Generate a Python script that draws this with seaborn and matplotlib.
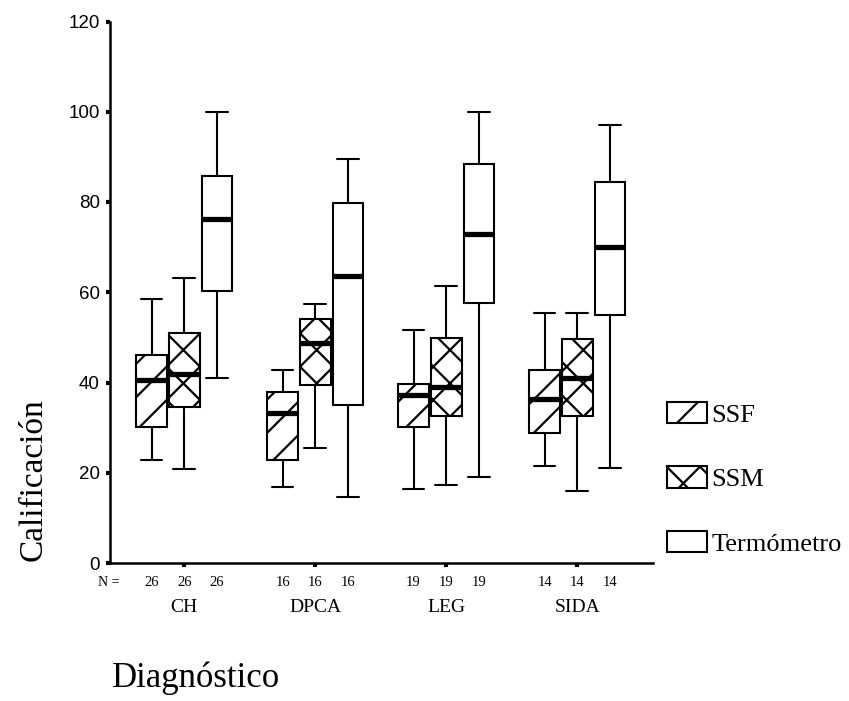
import numpy as np
import pandas as pd
import matplotlib
matplotlib.use("Agg")
import matplotlib.pyplot as plt
import seaborn as sns
from matplotlib.patches import Patch
from matplotlib.transforms import blended_transform_factory

# ---------------- data ----------------
categories = ["CH", "DPCA", "LEG", "SIDA"]
measures = ["SSF", "SSM", "Termómetro"]
n_counts = [26, 16, 19, 14]

# five-number summaries per category: [whisker low, Q1, median, Q3, whisker high]
ssf_summary = [
    [22.8, 30.2, 40.5, 46.2, 58.4],
    [16.8, 22.8, 33.3, 37.8, 42.8],
    [16.5, 30.2, 37.2, 39.6, 51.7],
    [21.5, 28.7, 36.4, 42.8, 55.4],
]
ssm_summary = [
    [20.8, 34.6, 41.8, 51.0, 63.1],
    [25.4, 39.4, 48.8, 54.1, 57.4],
    [17.3, 32.6, 39.0, 49.9, 61.4],
    [16.0, 32.6, 40.9, 49.7, 55.4],
]
termometro_summary = [
    [41.0, 60.3, 76.3, 85.7, 100.0],
    [14.7, 35.1, 63.6, 79.8, 89.5],
    [19.0, 57.6, 72.9, 88.4, 100.0],
    [21.0, 55.0, 70.0, 84.5, 97.0],
]
y_ticks = [0, 20, 40, 60, 80, 100, 120]

rows = []
for meas, summ in zip(measures, [ssf_summary, ssm_summary, termometro_summary]):
    for cat, five in zip(categories, summ):
        for v in five:
            rows.append({"Diagnóstico": cat, "Medida": meas, "Calificación": v})
df = pd.DataFrame(rows)

# ---------------- style ----------------
sns.set_style("ticks")
plt.rcParams["hatch.linewidth"] = 1.6
plt.rcParams["hatch.color"] = "black"
plt.rcParams["text.color"] = "black"
plt.rcParams["xtick.color"] = "black"
plt.rcParams["ytick.color"] = "black"
plt.rcParams["xtick.labelcolor"] = "black"
plt.rcParams["ytick.labelcolor"] = "black"
serif = ["Liberation Serif", "DejaVu Serif"]
sans = ["Liberation Sans", "DejaVu Sans"]

W, H = 849, 701
fig = plt.figure(figsize=(W / 100, H / 100), dpi=100)
fig.patch.set_facecolor("white")
ax = fig.add_axes([109.5 / W, 1 - 563 / H, (653 - 109.5) / W, (563 - 21.5) / H])

sns.boxplot(
    data=df, x="Diagnóstico", y="Calificación", hue="Medida",
    order=categories, hue_order=measures,
    palette={m: "white" for m in measures},
    linecolor="black", linewidth=1.5, width=0.75, gap=0.06,
    whis=np.inf, capwidths=0.165,
    medianprops=dict(linewidth=3.8, color="black", solid_capstyle="butt"),
    legend=False, ax=ax,
)

# hatch patterns by hue slot
hatch_map = {0: "/", 1: "x", 2: ""}
for p in ax.patches:
    xs = p.get_path().vertices[:, 0]
    xc = (xs.min() + xs.max()) / 2
    off = xc - round(xc)
    idx = int(round(off / 0.25)) + 1
    p.set_hatch(hatch_map.get(idx, ""))
    p.set_edgecolor("black")
    p.set_facecolor("white")

ax.set_xlim(-0.571, 3.578)
ax.set_ylim(0, 120)
ax.set_yticks(y_ticks)
ax.set_yticklabels([str(t) for t in y_ticks], family=sans, fontsize=13.5, color="black")
ax.set_xticks(range(len(categories)))
ax.set_xticklabels(categories, family=serif, fontsize=14, color="black")
ax.tick_params(axis="y", length=3, width=3, pad=4, direction="out", colors="black")
ax.tick_params(axis="x", length=3, width=3, pad=23, direction="out", colors="black")
ax.set_xlabel("")
ax.set_ylabel("")
for s in ["top", "right"]:
    ax.spines[s].set_visible(False)
for s in ["left", "bottom"]:
    ax.spines[s].set_linewidth(1.8)
    ax.spines[s].set_color("black")

# N = counts row
trans = blended_transform_factory(ax.transData, ax.transAxes)
yN = -19 / 541.5
ax.text(-0.575, yN, "N =", transform=trans, ha="center", va="center",
        fontsize=10, family=serif, color="black")
for i, n in enumerate(n_counts):
    for off in (-0.25, 0.0, 0.25):
        ax.text(i + off, yN, str(n), transform=trans, ha="center", va="center",
                fontsize=10.5, family=serif, color="black")

# axis titles
fig.text(33 / W, 1 - 480 / H, "Calificación", rotation=90, ha="center", va="center",
         fontsize=24, family=serif, color="black")
fig.text(112 / W, 1 - 678 / H, "Diagnóstico", ha="left", va="center",
         fontsize=25, family=serif, color="black")

# legend
handles = [Patch(facecolor="white", edgecolor="black", hatch=h, linewidth=1.5, label=m)
           for m, h in zip(measures, ["/", "x", ""])]
leg = fig.legend(handles=handles, loc="upper left", bbox_to_anchor=(667 / W, 1 - 402 / H),
                 frameon=False, prop={"family": serif, "size": 19},
                 handlelength=1.52, handleheight=0.87, handletextpad=0.15,
                 labelspacing=1.5, borderpad=0, borderaxespad=0)
for t in leg.get_texts():
    t.set_color("black")

fig.savefig("out.png", dpi=100)
